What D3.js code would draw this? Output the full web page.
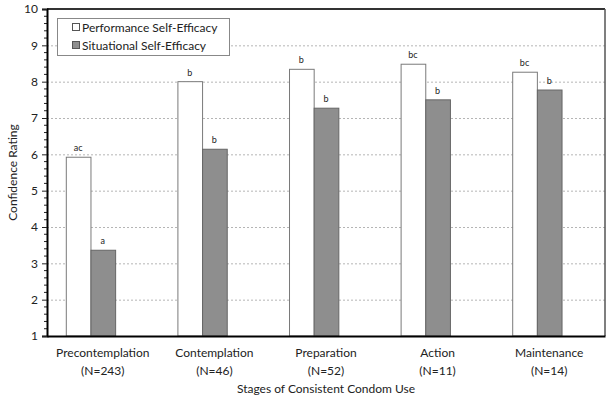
<!DOCTYPE html>
<html lang="en">
<head>
<meta charset="UTF-8">
<title>Confidence Rating</title>
<style>
  body { margin: 0; background: #fff; }
  text { font-family: Lato, "Open Sans", sans-serif; fill: #222; }
</style>
</head>
<body>
<script src="https://cdn.jsdelivr.net/npm/d3@7"></script>
<script>
var stages = ["Precontemplation", "Contemplation", "Preparation", "Action", "Maintenance"]
var sizes = ["(N=243)", "(N=46)", "(N=52)", "(N=11)", "(N=14)"]
var performance = [5.92, 8.0, 8.34, 8.48, 8.26]
var situational = [3.36, 6.14, 7.27, 7.50, 7.77]
var perfLetters = ["ac", "b", "b", "bc", "bc"]
var sitLetters = ["a", "b", "b", "b", "b"]
var yTicks = [1, 2, 3, 4, 5, 6, 7, 8, 9, 10]

var width = 612, height = 401
var pLeft = 47, pRight = 605, pTop = 9, pBottom = 336

var svg = d3.select('body').append('svg')
    .attr('width', width).attr('height', height)

var x0 = d3.scaleBand().domain(stages).range([pLeft, pRight])
    .paddingInner(0.337).paddingOuter(0.1685)
// third slot stays empty, like the blank series in the original
var x1 = d3.scaleBand().domain(["perf", "sit", "blank"]).range([0, x0.bandwidth()])
var y = d3.scaleLinear().domain([1, 10]).range([pBottom, pTop])

// dotted grid
svg.append('g').selectAll('line').data(yTicks.slice(1, 9))
    .enter().append('line')
    .attr('x1', pLeft).attr('x2', pRight)
    .attr('y1', d => y(d) + 0.5).attr('y2', d => y(d) + 0.5)
    .attr('stroke', '#b5b5b5').attr('stroke-dasharray', '2,2')

var rows = stages.map((s, i) => ({ stage: s, perf: performance[i], sit: situational[i], pl: perfLetters[i], sl: sitLetters[i] }))

var g = svg.append('g').selectAll('g').data(rows)
    .enter().append('g')
    .attr('transform', d => 'translate(' + x0(d.stage) + ',0)')

g.append('rect')
    .attr('x', x1('perf') + 0.5).attr('y', d => y(d.perf))
    .attr('width', x1.bandwidth()).attr('height', d => y(1) - y(d.perf))
    .attr('fill', '#fff').attr('stroke', '#7a7a7a')

g.append('rect')
    .attr('x', x1('sit') + 0.5).attr('y', d => y(d.sit))
    .attr('width', x1.bandwidth()).attr('height', d => y(1) - y(d.sit))
    .attr('fill', '#8e8e8e').attr('stroke', '#666')

g.append('text')
    .attr('x', x1('perf') + x1.bandwidth() / 2).attr('y', d => y(d.perf) - 6)
    .attr('text-anchor', 'middle').attr('font-size', 9)
    .text(d => d.pl)

g.append('text')
    .attr('x', x1('sit') + x1.bandwidth() / 2).attr('y', d => y(d.sit) - 6)
    .attr('text-anchor', 'middle').attr('font-size', 9)
    .text(d => d.sl)

// frame: top and right
svg.append('line').attr('x1', pLeft).attr('x2', pRight).attr('y1', pTop).attr('y2', pTop)
    .attr('stroke', '#333').attr('stroke-width', 2)
svg.append('line').attr('x1', pRight).attr('x2', pRight).attr('y1', pTop).attr('y2', pBottom)
    .attr('stroke', '#555').attr('stroke-width', 1.5)

// y axis with minor ticks
var minor = d3.range(1, 10.01, 0.2).filter(v => Math.abs(v - Math.round(v)) > 0.01)
svg.append('g').selectAll('line').data(minor)
    .enter().append('line')
    .attr('x1', pLeft - 3).attr('x2', pLeft)
    .attr('y1', d => y(d)).attr('y2', d => y(d))
    .attr('stroke', '#222')

var yAxis = d3.axisLeft(y).tickValues(yTicks).tickSize(5).tickPadding(4).tickFormat(d3.format('d'))
var ya = svg.append('g').attr('transform', 'translate(' + pLeft + ',0)').call(yAxis)
ya.select('.domain').attr('stroke', '#000').attr('stroke-width', 2)
ya.selectAll('.tick line').attr('stroke', '#222')
ya.selectAll('text').attr('font-size', 12).attr('font-family', 'Lato, sans-serif').attr('fill', '#222')

// x axis
var xAxis = d3.axisBottom(x0).tickSize(0).tickFormat('')
var xa = svg.append('g').attr('transform', 'translate(0,' + pBottom + ')').call(xAxis)
xa.select('.domain').attr('stroke', '#000').attr('stroke-width', 2)

var labels = svg.append('g').selectAll('text').data(stages)
    .enter().append('text')
    .attr('text-anchor', 'middle').attr('font-size', 12)
    .attr('x', d => x0(d) + x0.bandwidth() / 2)
labels.append('tspan').attr('y', 357).text(d => d)
labels.append('tspan').attr('y', 375)
    .attr('x', d => x0(d) + x0.bandwidth() / 2)
    .text((d, i) => sizes[i])

svg.append('text').attr('x', (pLeft + pRight) / 2).attr('y', 393)
    .attr('text-anchor', 'middle').attr('font-size', 12)
    .text('Stages of Consistent Condom Use')

svg.append('text')
    .attr('transform', 'translate(17,' + (pTop + pBottom) / 2 + ') rotate(-90)')
    .attr('text-anchor', 'middle').attr('font-size', 12)
    .text('Confidence Rating')

// legend
var lg = svg.append('g')
lg.append('rect').attr('x', 57.5).attr('y', 18.5).attr('width', 172).attr('height', 37)
    .attr('fill', '#fff').attr('stroke', '#888')
var legendItems = [["Performance Self-Efficacy", '#fff', '#555'], ["Situational Self-Efficacy", '#8e8e8e', '#555']]
var li = lg.selectAll('g').data(legendItems).enter().append('g')
    .attr('transform', (d, i) => 'translate(72,' + (23 + i * 18) + ')')
li.append('rect').attr('x', 0.5).attr('y', 0.5).attr('width', 7).attr('height', 7)
    .attr('fill', d => d[1]).attr('stroke', d => d[2])
li.append('text').attr('x', 10).attr('y', 8.5).attr('font-size', 12).text(d => d[0])
</script>
</body>
</html>
